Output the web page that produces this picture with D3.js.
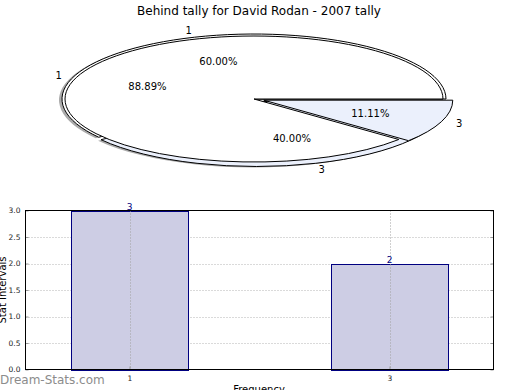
<!DOCTYPE html>
<html>
<head>
<meta charset="utf-8">
<script src="https://cdn.jsdelivr.net/npm/d3@7"></script>
<style>
  body { margin: 0; background: #fff; }
  svg { display: block; font-family: "DejaVu Sans", sans-serif; }
</style>
</head>
<body>
<svg id="chart" width="520" height="390"></svg>
<script>
// data
var title = "Behind tally for David Rodan - 2007 tally";
var outerLabels = ["1", "3"];
var outerValues = [3, 2];        // 60% / 40%
var innerLabels = ["1", "3"];
var innerValues = [8, 1];        // 88.89% / 11.11%
var barCategories = ["1", "3"];
var barValues = [3, 2];
var yTicks = [0, 0.5, 1.0, 1.5, 2.0, 2.5, 3.0];

var width = 520, height = 390;
var svg = d3.select("#chart");
var sliceColors = ["#ffffff", "#ebf0fc"];

svg.append("text")
   .attr("x", 259).attr("y", 15)
   .attr("text-anchor", "middle")
   .attr("font-size", 12)
   .text(title);

// squashed pie, matplotlib style: starts at 3 o'clock, runs counter-clockwise
var cx = 254, cy = 99;

function drawPie(values, labels, rx, ry, explode, shadow) {
  var pie = d3.pie().sort(null)
      .startAngle(Math.PI / 2)
      .endAngle(Math.PI / 2 - 2 * Math.PI);
  var arcs = pie(values);
  var total = d3.sum(values);
  var arc = d3.arc().innerRadius(0).outerRadius(1);
  var g = svg.append("g");

  function offset(d, i) {
    var a = (d.startAngle + d.endAngle) / 2;
    return [Math.sin(a) * explode[i] * rx, -Math.cos(a) * explode[i] * ry];
  }

  if (shadow) {
    g.selectAll("path.shadow")
      .data(arcs)
      .enter().append("path")
        .attr("class", "shadow")
        .attr("d", arc)
        .attr("transform", function(d, i) {
          var o = offset(d, i);
          return "translate(" + (cx + o[0] - 3) + "," + (cy + o[1] + 1) + ") scale(" + rx + "," + ry + ")";
        })
        .attr("fill", "#666")
        .attr("opacity", 0.55);
  }

  g.selectAll("path.slice")
    .data(arcs)
    .enter().append("path")
      .attr("class", "slice")
      .attr("d", arc)
      .attr("transform", function(d, i) {
        var o = offset(d, i);
        return "translate(" + (cx + o[0]) + "," + (cy + o[1]) + ") scale(" + rx + "," + ry + ")";
      })
      .attr("fill", function(d, i) { return sliceColors[i]; })
      .attr("stroke", "#000")
      .attr("stroke-width", 1)
      .attr("vector-effect", "non-scaling-stroke");

  return arcs.map(function(d, i) {
    var a = (d.startAngle + d.endAngle) / 2;
    var o = offset(d, i);
    return {
      label: labels[i],
      pct: (100 * d.value / total).toFixed(2) + "%",
      lx: cx + o[0] + 1.1 * rx * Math.sin(a),
      ly: cy + o[1] - 1.1 * ry * Math.cos(a),
      px: cx + o[0] + 0.6 * rx * Math.sin(a),
      py: cy + o[1] - 0.6 * ry * Math.cos(a)
    };
  });
}

var outerText = drawPie(outerValues, outerLabels, 192, 65, [0, 0.04], true);
var innerText = drawPie(innerValues, innerLabels, 189, 63, [0, 0.055], false);

var pieText = outerText.concat(innerText);
svg.selectAll("text.pielabel")
  .data(pieText)
  .enter().append("text")
    .attr("class", "pielabel")
    .attr("x", function(d) { return d.lx; })
    .attr("y", function(d) { return d.ly; })
    .attr("text-anchor", "middle")
    .attr("dominant-baseline", "central")
    .attr("font-size", 10)
    .text(function(d) { return d.label; });
svg.selectAll("text.pct")
  .data(pieText)
  .enter().append("text")
    .attr("class", "pct")
    .attr("x", function(d) { return d.px; })
    .attr("y", function(d) { return d.py; })
    .attr("text-anchor", "middle")
    .attr("dominant-baseline", "central")
    .attr("font-size", 10)
    .text(function(d) { return d.pct; });

// bar chart
var plotLeft = 25.5, plotRight = 493.5, plotTop = 210.5, plotBottom = 369.5;
var xScale = d3.scaleLinear().domain([-0.4, 1.4]).range([plotLeft, plotRight]);
var yScale = d3.scaleLinear().domain([0, 3]).range([plotBottom, plotTop]);
var barWidth = 0.45;

// horizontal grid sits behind the bars
svg.append("g").attr("class", "hgrid")
  .selectAll("line")
  .data(yTicks.slice(1, -1))
  .enter().append("line")
    .attr("x1", plotLeft).attr("x2", plotRight)
    .attr("y1", function(d) { return Math.round(yScale(d)) + 0.5; })
    .attr("y2", function(d) { return Math.round(yScale(d)) + 0.5; })
    .attr("stroke", "#b4b4b4")
    .attr("stroke-dasharray", "1,2");

svg.selectAll("rect.bar")
  .data(barValues)
  .enter().append("rect")
    .attr("class", "bar")
    .attr("x", function(d, i) { return Math.round(xScale(i - barWidth / 2)) + 0.5; })
    .attr("width", Math.round(xScale(barWidth) - xScale(0)))
    .attr("y", function(d) { return Math.round(yScale(d)) + 0.5; })
    .attr("height", function(d) { return Math.round(yScale(0) - yScale(d)); })
    .attr("fill", "#cdcde4")
    .attr("stroke", "#000080")
    .attr("stroke-width", 1);

// vertical grid drawn over the bars
svg.append("g").attr("class", "vgrid")
  .selectAll("line")
  .data(barCategories)
  .enter().append("line")
    .attr("x1", function(d, i) { return Math.round(xScale(i)) + 0.5; })
    .attr("x2", function(d, i) { return Math.round(xScale(i)) + 0.5; })
    .attr("y1", plotTop).attr("y2", plotBottom)
    .attr("stroke", "#a0a0a0")
    .attr("stroke-dasharray", "1,2");

var yAxis = d3.axisLeft(yScale)
    .tickValues(yTicks)
    .tickSize(-3)
    .tickPadding(5)
    .tickFormat(d3.format(".1f"));
var yAxisRight = d3.axisRight(yScale)
    .tickValues(yTicks)
    .tickSize(-3)
    .tickFormat("");
var xAxis = d3.axisBottom(xScale)
    .tickValues(d3.range(barCategories.length))
    .tickSize(-3)
    .tickPadding(6)
    .tickFormat(function(d, i) { return barCategories[i]; });

function styleAxis(g) {
  g.select(".domain").remove();
  g.selectAll(".tick line").attr("stroke", "#999");
  g.selectAll(".tick text")
   .attr("font-family", "DejaVu Sans, sans-serif")
   .attr("font-size", 7.5)
   .attr("fill", "#222");
}

svg.append("g")
   .attr("transform", "translate(" + plotLeft + ",0)")
   .call(yAxis).call(styleAxis);
svg.append("g")
   .attr("transform", "translate(" + plotRight + ",0)")
   .call(yAxisRight).call(styleAxis);
svg.append("g")
   .attr("transform", "translate(0," + plotBottom + ")")
   .call(xAxis).call(styleAxis);

svg.append("rect")
   .attr("x", plotLeft).attr("y", plotTop)
   .attr("width", plotRight - plotLeft).attr("height", plotBottom - plotTop)
   .attr("fill", "none")
   .attr("stroke", "#000");

svg.selectAll("text.value")
  .data(barValues)
  .enter().append("text")
    .attr("class", "value")
    .attr("x", function(d, i) { return xScale(i); })
    .attr("y", function(d) { return yScale(d) - 1; })
    .attr("text-anchor", "middle")
    .attr("font-size", 9)
    .attr("fill", "#000080")
    .text(function(d) { return d; });

svg.append("text")
   .attr("transform", "translate(6," + ((plotTop + plotBottom) / 2) + ") rotate(-90)")
   .attr("text-anchor", "middle")
   .attr("font-size", 10)
   .text("Stat Intervals");

svg.append("text")
   .attr("x", 259).attr("y", 393)
   .attr("text-anchor", "middle")
   .attr("font-size", 10)
   .text("Frequency");

svg.append("text")
   .attr("x", 0).attr("y", 384)
   .attr("font-size", 12)
   .attr("fill", "#8c8c8c")
   .text("Dream-Stats.com");
</script>
</body>
</html>
